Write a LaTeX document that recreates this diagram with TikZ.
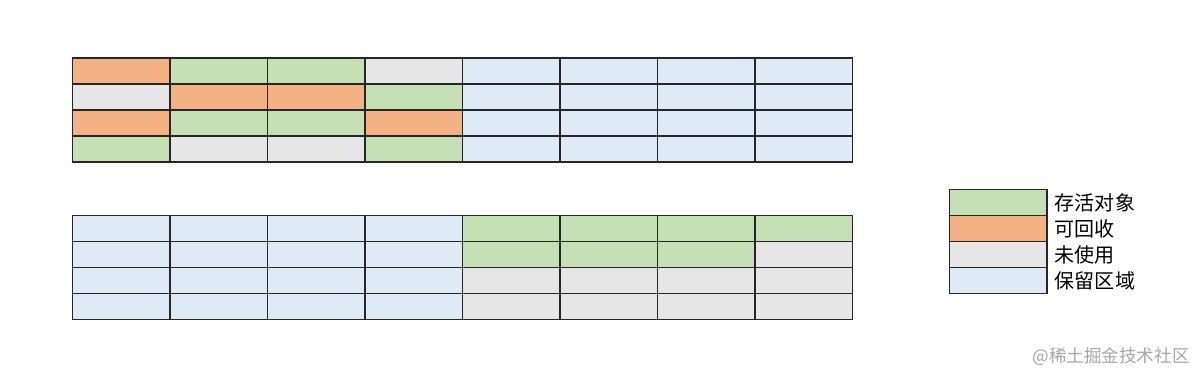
\documentclass[tikz,border=0pt]{standalone}
\usepackage{fontspec}
\setmainfont{Noto Sans CJK SC}
\usetikzlibrary{positioning}

\definecolor{cLive}{HTML}{C5E0B4}
\definecolor{cFree}{HTML}{F4B183}
\definecolor{cIdle}{HTML}{E7E6E6}
\definecolor{cRsv}{HTML}{DEEBF7}

\begin{document}
\begin{tikzpicture}[
  x=0.02cm, y=-0.02cm,
  cell/.style={draw=black!85, line width=0.6pt, inner sep=0pt, anchor=north west,
               minimum width=1.95cm, minimum height=0.52cm},
  key/.style={font=\fontsize{11.4}{12}\selectfont, anchor=west, inner sep=0pt},
  wmtext/.style={font=\fontsize{10}{11}\selectfont, text=black!35, anchor=east, inner sep=0pt},
]
\useasboundingbox (0,0) rectangle (1200,375);

% ---- upper heap: regions before evacuation ----
\foreach \r/\row in {1/{cFree,cLive,cLive,cIdle,cRsv,cRsv,cRsv,cRsv},
                     2/{cIdle,cFree,cFree,cLive,cRsv,cRsv,cRsv,cRsv},
                     3/{cFree,cLive,cLive,cFree,cRsv,cRsv,cRsv,cRsv},
                     4/{cLive,cIdle,cIdle,cLive,cRsv,cRsv,cRsv,cRsv}}{
  \foreach \fc [count=\k] in \row
    \node[cell, fill=\fc] (up-\r-\k) at ({72+(\k-1)*97.5},{57.5+(\r-1)*26}) {};
}

% ---- lower heap: regions after evacuation ----
\foreach \r/\row in {1/{cRsv,cRsv,cRsv,cRsv,cLive,cLive,cLive,cLive},
                     2/{cRsv,cRsv,cRsv,cRsv,cLive,cLive,cLive,cIdle},
                     3/{cRsv,cRsv,cRsv,cRsv,cIdle,cIdle,cIdle,cIdle},
                     4/{cRsv,cRsv,cRsv,cRsv,cIdle,cIdle,cIdle,cIdle}}{
  \foreach \fc [count=\k] in \row
    \node[cell, fill=\fc] (lo-\r-\k) at ({72+(\k-1)*97.5},{215+(\r-1)*26}) {};
}

% ---- legend ----
\foreach \fc/\txt [count=\k] in {cLive/存活对象, cFree/可回收, cIdle/未使用, cRsv/保留区域}{
  \node[cell, fill=\fc] (lg-\k) at (949,{189+(\k-1)*26}) {};
  \node[key, right=4pt of lg-\k] (lt-\k) {\txt};
}

% ---- watermark ----
\node[wmtext] (wm) at (1190,357) {@稀土掘金技术社区};
\end{tikzpicture}
\end{document}
